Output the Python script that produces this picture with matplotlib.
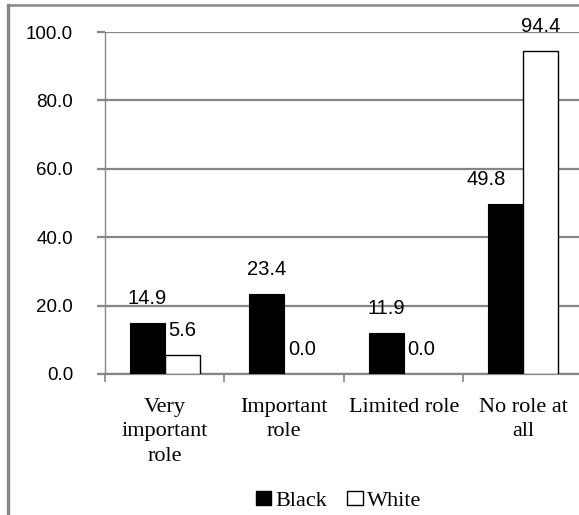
import matplotlib.pyplot as plt
from matplotlib.lines import Line2D
from matplotlib.patches import Patch
import numpy as np

# Survey responses (%)
categories = ['Very\nimportant\nrole', 'Important\nrole', 'Limited role', 'No role at\nall']
black = [14.9, 23.4, 11.9, 49.8]
white = [5.6, 0.0, 0.0, 94.4]
yticks = [0, 20, 40, 60, 80, 100]

serif = 'Liberation Serif'
sans = 'Liberation Sans'
grey = '#868686'

fig = plt.figure(figsize=(5.79, 5.15), dpi=100)
ax = fig.add_axes([0.1813, 0.2738, 0.8256, 0.664])

x = np.arange(len(categories))
w = 0.293
ax.bar(x - w / 2, black, w, color='black', edgecolor='black', linewidth=0.8, zorder=3)
# empty bars get no outline so nothing shows on the baseline
edges = ['black' if v > 0 else 'none' for v in white]
ax.bar(x + w / 2, white, w, color='white', edgecolor=edges, linewidth=1.0, zorder=3)

# value labels above each bar
for i, v in enumerate(black):
    dx = -14 if black[i] > 40 else 0  # pushed left where the tall white bar sits
    ax.annotate(f'{v:.1f}', (x[i] - w / 2, v), xytext=(dx, 17.5), textcoords='offset points',
                ha='center', va='center', fontsize=14.5, family=sans)
for i, v in enumerate(white):
    ax.annotate(f'{v:.1f}', (x[i] + w / 2, v), xytext=(0, 17.5), textcoords='offset points',
                ha='center', va='center', fontsize=14.5, family=sans)

ax.set_xlim(-0.5, len(categories) - 0.5)
ax.set_ylim(0, 100)
ax.set_yticks(yticks)
ax.set_yticklabels([f'{t:.1f}' for t in yticks], family=sans, fontsize=13.5)
ax.yaxis.grid(True, color=grey, linewidth=1.6, zorder=0)
ax.tick_params(axis='y', length=6, width=1.6, color=grey, pad=17)

# category boundaries as ticks, names centred between them
ax.set_xticks(np.arange(len(categories) + 1) - 0.5)
ax.set_xticklabels([])
ax.set_xticks(x, minor=True)
ax.set_xticklabels(categories, minor=True, family=serif, fontsize=16, linespacing=1.4)
ax.tick_params(axis='x', which='major', length=6, width=1.2, color=grey)
ax.tick_params(axis='x', which='minor', length=0, pad=17)

for s in ['top', 'right']:
    ax.spines[s].set_visible(False)
ax.spines['left'].set_color(grey)
ax.spines['left'].set_linewidth(1.0)
ax.spines['bottom'].set_color(grey)
ax.spines['bottom'].set_linewidth(1.6)
ax.set_axisbelow(True)

handles = [Patch(facecolor='black', edgecolor='black'),
           Patch(facecolor='white', edgecolor='black')]
fig.legend(handles, ['Black', 'White'], loc='center', bbox_to_anchor=(0.585, 0.027),
           ncol=2, frameon=False, prop={'family': serif, 'size': 16},
           handlelength=0.7, handleheight=0.55, handletextpad=0.2, columnspacing=0.9)

# outer chart frame (left and top edges)
fig.add_artist(Line2D([8 / 579, 8 / 579], [0, 1 - 5 / 515], transform=fig.transFigure,
                      color=grey, linewidth=2.4))
fig.add_artist(Line2D([8 / 579, 1], [1 - 5 / 515, 1 - 5 / 515], transform=fig.transFigure,
                      color=grey, linewidth=1.8))

fig.savefig('out.png', dpi=100)
